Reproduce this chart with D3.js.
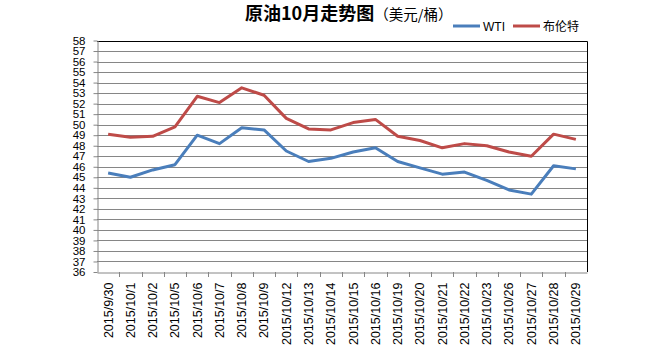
<!DOCTYPE html>
<html>
<head>
<meta charset="utf-8">
<script src="https://cdn.jsdelivr.net/npm/d3@7"></script>
<style>
  body { margin: 0; background: #fff; }
  svg { display: block; }
  .tick text { font-family: "Liberation Sans", Arial, sans-serif; fill: #000; }
</style>
</head>
<body>
<svg id="chart" width="654" height="352"></svg>
<script>
// categories (trading days)
var dates = ['2015/9/30','2015/10/1','2015/10/2','2015/10/5','2015/10/6','2015/10/7','2015/10/8','2015/10/9',
  '2015/10/12','2015/10/13','2015/10/14','2015/10/15','2015/10/16','2015/10/19','2015/10/20','2015/10/21',
  '2015/10/22','2015/10/23','2015/10/26','2015/10/27','2015/10/28','2015/10/29'];
var wti   = [45.4, 45.0, 45.7, 46.2, 49.0, 48.2, 49.7, 49.5, 47.5, 46.5, 46.8, 47.4, 47.8, 46.5, 45.9, 45.3, 45.5, 44.7, 43.8, 43.4, 46.1, 45.8];
var brent = [49.1, 48.8, 48.9, 49.8, 52.7, 52.1, 53.5, 52.8, 50.6, 49.6, 49.5, 50.2, 50.5, 48.9, 48.5, 47.8, 48.2, 48.0, 47.4, 47.0, 49.1, 48.6];
var yTicks = d3.range(36, 59);
var seriesNames = ['WTI', '布伦特'];
var seriesColors = ['#4a7ebb', '#be4b48'];

var svg = d3.select('#chart');
var plot = {l: 97, t: 40.5, r: 587, b: 272};

var x = d3.scaleBand().domain(dates).range([plot.l, plot.r]);
var y = d3.scaleLinear().domain([36, 58]).range([plot.b, plot.t]);

// gridlines
svg.append('g').selectAll('line')
  .data(yTicks.slice(1))
  .enter().append('line')
  .attr('x1', plot.l).attr('x2', plot.r)
  .attr('y1', d => Math.round(y(d)) + 0.5).attr('y2', d => Math.round(y(d)) + 0.5)
  .attr('stroke', '#868686').attr('stroke-width', 1);

// plot border top / right
svg.append('path')
  .attr('d', 'M' + plot.l + ',' + (Math.round(plot.t) + 0.5) + 'H' + (plot.r + 0.5) + 'V' + plot.b)
  .attr('fill', 'none').attr('stroke', '#000').attr('stroke-width', 1);

// y axis
var yAxis = svg.append('g')
  .attr('transform', 'translate(' + (plot.l + 0.5) + ',0)')
  .call(d3.axisLeft(y).tickValues(yTicks).tickSize(4).tickPadding(8).tickSizeOuter(0));
yAxis.selectAll('line, path').attr('stroke', '#868686');
yAxis.selectAll('text').attr('font-size', 11.5);

// x axis with ticks at category boundaries
var xAxis = svg.append('g')
  .attr('transform', 'translate(0,' + (Math.round(plot.b) + 0.5) + ')')
  .call(d3.axisBottom(x).tickSize(0).tickSizeOuter(0));
xAxis.select('.domain').attr('stroke', '#868686');
xAxis.selectAll('text')
  .attr('font-size', 12.5)
  .attr('text-anchor', 'end')
  .attr('transform', 'rotate(-90)')
  .attr('x', -10).attr('y', 0).attr('dy', '0.35em');
svg.append('g').selectAll('line')
  .data(dates.slice(1))
  .enter().append('line')
  .attr('x1', d => Math.round(x(d)) + 0.5).attr('x2', d => Math.round(x(d)) + 0.5)
  .attr('y1', plot.b).attr('y2', plot.b + 5)
  .attr('stroke', '#868686');

// lines
var line = d3.line()
  .x((d, i) => x(dates[i]) + x.bandwidth() / 2)
  .y(d => y(d));
[wti, brent].forEach(function(s, k) {
  svg.append('path')
    .datum(s)
    .attr('d', line)
    .attr('fill', 'none')
    .attr('stroke', seriesColors[k])
    .attr('stroke-width', 3)
    .attr('stroke-linejoin', 'round');
});

// title
var title = svg.append('text')
  .attr('x', 245).attr('y', 20)
  .attr('font-family', '"Noto Sans CJK SC", sans-serif');
title.append('tspan').attr('font-size', 18).attr('font-weight', 'bold').text('原油10月走势图');
title.append('tspan').attr('font-size', 14.5).text('（美元/桶）');

// legend
var legendX = [453, 513];
seriesNames.forEach(function(n, k) {
  var g = svg.append('g').attr('transform', 'translate(' + legendX[k] + ',26)');
  g.append('line').attr('x1', 0).attr('x2', 27).attr('y1', 0).attr('y2', 0)
    .attr('stroke', seriesColors[k]).attr('stroke-width', 3);
  g.append('text').attr('x', 30).attr('y', 4.5)
    .attr('font-family', '"Liberation Sans", "Noto Sans CJK SC", sans-serif')
    .attr('font-size', 12).text(n);
});
</script>
</body>
</html>
